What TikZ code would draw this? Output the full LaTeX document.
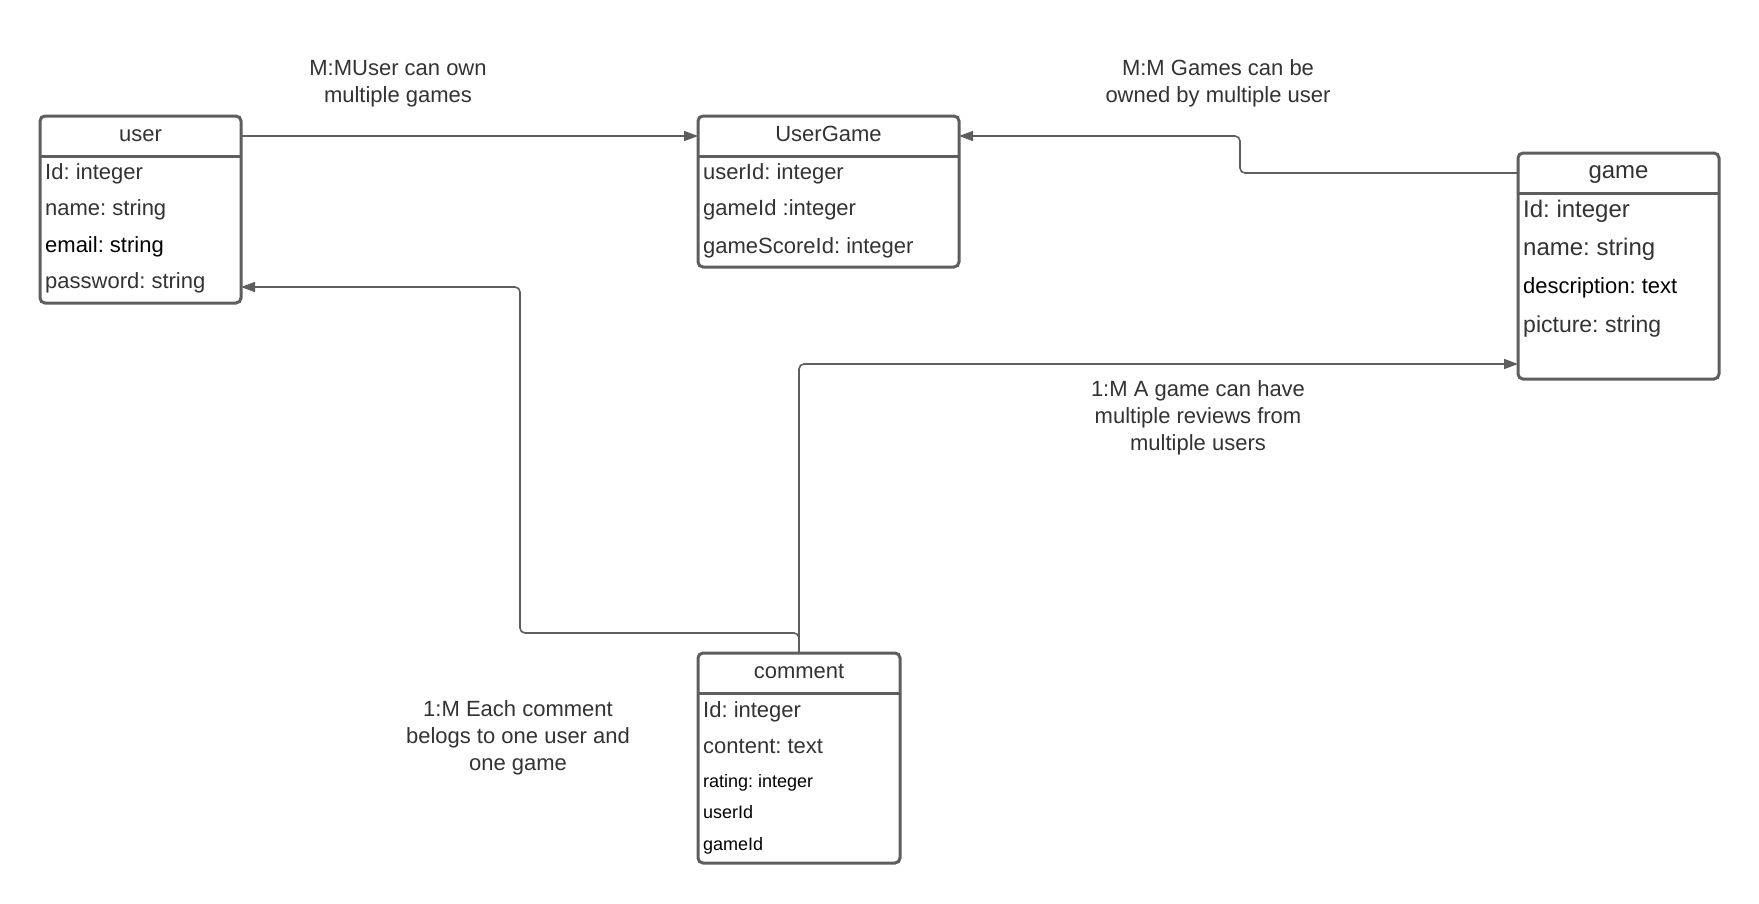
\documentclass[tikz,border=0pt]{standalone}
\usepackage{fontspec}
\setmainfont{Liberation Sans}
\usetikzlibrary{arrows.meta}
\definecolor{ink}{HTML}{333333}
\definecolor{edge}{HTML}{5E5E5E}
\frenchspacing
\begin{document}
\begin{tikzpicture}[x=1pt,y=-1pt,
  entity/.style={draw=edge, line width=3pt, rounded corners=5pt, inner sep=0pt,
    outer sep=0pt, anchor=north west},
  header/.style={inner sep=0pt, outer sep=0pt, anchor=north west, minimum height=40pt,
    text=ink, text height=16pt, text depth=4.5pt, font=\fontsize{22}{26}\selectfont},
  divider/.style={draw=edge, line width=3pt},
  field/.style={anchor=base west, inner sep=0pt, text=ink, font=\fontsize{22}{26}\selectfont},
  bigfield/.style={field, font=\fontsize{24}{28}\selectfont},
  smallfield/.style={field, font=\fontsize{18}{22}\selectfont},
  note/.style={anchor=north, inner sep=0pt, align=center, text=ink,
    font=\fontsize{22}{27}\selectfont},
  conn/.style={draw=edge, line width=1.6pt, rounded corners=5pt,
    -{Triangle[length=14pt,width=10pt]}}
]
\useasboundingbox (0,0) rectangle (1759,903);
\fill[white] (0,0) rectangle (1759,903);

% user entity
\node[entity, minimum width=201pt, minimum height=187pt] (user) at (40,116) {};
\node[header, minimum width=201pt] (user-h) at (40,116) {user};
\draw[divider] (user-h.south west) -- (user-h.south east);
\node[field] (user-f1) at (45,179) {Id: integer};
\node[field] (user-f2) at (45,215) {name: string};
\node[field, text=black] (user-f3) at (45,252) {email: string};
\node[field] (user-f4) at (45,288) {password: string};

% UserGame entity
\node[entity, minimum width=261pt, minimum height=151pt] (ug) at (698,116) {};
\node[header, minimum width=261pt] (ug-h) at (698,116) {UserGame};
\draw[divider] (ug-h.south west) -- (ug-h.south east);
\node[field] (ug-f1) at (703,179) {userId: integer};
\node[field] (ug-f2) at (703,215) {gameId :integer};
\node[field] (ug-f3) at (703,253) {gameScoreId: integer};

% game entity
\node[entity, minimum width=201pt, minimum height=226pt] (game) at (1518,153) {};
\node[header, minimum width=201pt, font=\fontsize{24}{28}\selectfont] (game-h) at (1518,153) {game};
\draw[divider] (game-h.south west) -- (game-h.south east);
\node[bigfield] (game-f1) at (1523,217) {Id: integer};
\node[bigfield] (game-f2) at (1523,255) {name: string};
\node[bigfield, text=black, font=\fontsize{22}{26}\selectfont] (game-f3) at (1523,293) {description: text};
\node[bigfield, font=\fontsize{23}{27}\selectfont] (game-f4) at (1523,332) {picture: string};

% comment entity
\node[entity, minimum width=202pt, minimum height=210pt] (comment) at (698,653) {};
\node[header, minimum width=202pt] (comment-h) at (698,653) {comment};
\draw[divider] (comment-h.south west) -- (comment-h.south east);
\node[field] (comment-f1) at (703,717) {Id: integer};
\node[field] (comment-f2) at (703,753) {content: text};
\node[smallfield, text=black] (comment-f3) at (703,787) {rating: integer};
\node[smallfield, text=black] (comment-f4) at (703,818) {userId};
\node[smallfield, text=black] (comment-f5) at (703,850) {gameId};

% relationship notes
\node[note] (n-usergame) at (398,60) {M:MUser can own\\multiple games};
\node[note] (n-gameuser) at (1218,59) {M:M Games can be\\owned by multiple user};
\node[note] (n-review) at (1198,380) {1:M A game can have\\multiple reviews from\\multiple users};
\node[note] (n-comment) at (518,700) {1:M Each comment\\belogs to one user and\\one game};

% routing points
\coordinate (g-bend) at (1240,173);
\coordinate (split) at (799,633);
\coordinate (c-bend) at (520,633);
\coordinate (user-in) at ([yshift=16pt]user.south east);
\coordinate (game-in) at ([yshift=15pt]game.south west);

% connectors
\draw[conn] (user-h.east) -- (ug-h.west);
\draw[conn] (game-h.west) -- (g-bend) |- (ug-h.east);
\draw[conn] (comment.north) -- (split) -- (c-bend) |- (user-in);
\draw[conn] (comment.north) -- (split) |- (game-in);
\end{tikzpicture}
\end{document}
